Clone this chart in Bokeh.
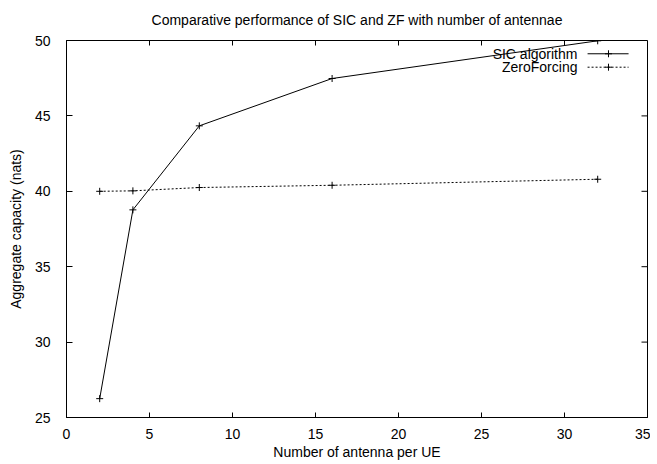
from bokeh.plotting import figure
from bokeh.models import Range1d, FixedTicker, Label
from bokeh.embed import file_html
from bokeh.resources import INLINE

# ---- data ----
antennas = [2, 4, 8, 16, 32]
sic_capacity = [26.25, 38.77, 44.34, 47.48, 49.98]
zf_capacity = [40.0, 40.03, 40.25, 40.4, 40.8]
x_ticks = [0, 5, 10, 15, 20, 25, 30, 35]
y_ticks = [25, 30, 35, 40, 45, 50]
series_names = ["SIC algorithm", "ZeroForcing"]
title_text = "Comparative performance of SIC and ZF with number of antennae"
x_label = "Number of antenna per UE"
y_label = "Aggregate capacity (nats)"

FONT = "Liberation Sans"
FS = "14px"
X0, X1 = 0, 35
Y0, Y1 = 25, 50
PX_PER_Y = 15.08   # pixels per y unit in the plot frame
PX_PER_X = 16.6    # pixels per x unit in the plot frame

p = figure(width=650, height=463, output_backend="svg", toolbar_location=None,
           x_range=Range1d(X0, X1), y_range=Range1d(Y0, Y1),
           min_border_left=66, min_border_right=3, min_border_top=40, min_border_bottom=46,
           title=title_text)
p.background_fill_color = "white"
p.border_fill_color = "white"
p.outline_line_color = "black"
p.outline_line_width = 1
p.grid.visible = False

p.title.text_font = FONT
p.title.text_font_size = FS
p.title.text_font_style = "normal"
p.title.text_color = "black"
p.title.align = "center"
p.title.vertical_align = "top"
p.title.standoff = 21

xa = p.xaxis[0]
xa.ticker = FixedTicker(ticks=x_ticks)
xa.axis_label = x_label
xa.major_tick_in = 5
xa.major_tick_out = 0
xa.minor_tick_line_color = None
xa.major_label_standoff = 11
xa.axis_label_standoff = 2

ya = p.yaxis[0]
ya.ticker = FixedTicker(ticks=y_ticks)
ya.axis_label = y_label
ya.major_tick_in = 6
ya.major_tick_out = 0
ya.minor_tick_line_color = None
ya.major_label_standoff = 16
ya.axis_label_standoff = 8

for ax in (xa, ya):
    ax.axis_line_color = "black"
    ax.major_tick_line_color = "black"
    ax.major_label_text_font = FONT
    ax.major_label_text_font_size = FS
    ax.major_label_text_color = "black"
    ax.axis_label_text_font = FONT
    ax.axis_label_text_font_size = FS
    ax.axis_label_text_font_style = "normal"
    ax.axis_label_text_color = "black"

# mirrored tick marks on top and right edges (gnuplot style), built from the tick lists
tick_len_y = 5 / PX_PER_Y
tick_len_x = 6 / PX_PER_X
p.segment(x0=x_ticks, y0=[Y1] * len(x_ticks), x1=x_ticks, y1=[Y1 - tick_len_y] * len(x_ticks),
          line_color="black", line_width=1)
p.segment(x0=[X1] * len(y_ticks), y0=y_ticks, x1=[X1 - tick_len_x] * len(y_ticks), y1=y_ticks,
          line_color="black", line_width=1)

# series
p.line(antennas, sic_capacity, line_color="black", line_width=1)
p.scatter(antennas, sic_capacity, marker="cross", size=7, line_color="black", line_width=1)
p.line(antennas, zf_capacity, line_color="black", line_width=1, line_dash="2 2")
p.scatter(antennas, zf_capacity, marker="cross", size=7, line_color="black", line_width=1)

# gnuplot-style key (text left, sample right), positions in plot units
key_text_x = 30.78
key_line_x = [31.39, 33.86]
key_mark_x = 32.65
key_rows = [49.12, 48.23]
dashes = ["solid", "2 2"]
for name, ky, dash in zip(series_names, key_rows, dashes):
    p.add_layout(Label(x=key_text_x, y=ky, text=name, text_align="right",
                       text_baseline="middle", text_font=FONT, text_font_size=FS,
                       text_color="black"))
    p.line(key_line_x, [ky, ky], line_color="black", line_width=1, line_dash=dash)
    p.scatter([key_mark_x], [ky], marker="cross", size=7, line_color="black", line_width=1)

open("out.html", "w").write(file_html(p, INLINE))
